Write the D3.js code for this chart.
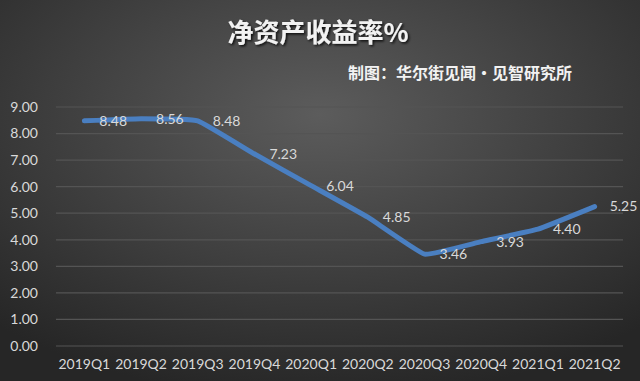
<!DOCTYPE html>
<html>
<head>
<meta charset="utf-8">
<script src="https://cdn.jsdelivr.net/npm/d3@7"></script>
<style>
  body { margin: 0; background: #333; }
  svg { display: block; }
</style>
</head>
<body>
<script>
var quarters = ["2019Q1", "2019Q2", "2019Q3", "2019Q4", "2020Q1", "2020Q2", "2020Q3", "2020Q4", "2021Q1", "2021Q2"];
var roe = [8.48, 8.56, 8.48, 7.23, 6.04, 4.85, 3.46, 3.93, 4.40, 5.25];
var yTicks = [0, 1, 2, 3, 4, 5, 6, 7, 8, 9];
var title = "净资产收益率%";
var subtitle = "制图：华尔街见闻·见智研究所";

var width = 640, height = 381;
var margin = {top: 107, right: 17, bottom: 35, left: 56};

var svg = d3.select("body").append("svg")
    .attr("width", width)
    .attr("height", height);

var defs = svg.append("defs");
var grad = defs.append("radialGradient")
    .attr("id", "bg")
    .attr("cx", "50%").attr("cy", "30%").attr("r", "75%");
grad.append("stop").attr("offset", "0%").attr("stop-color", "#5c5c5c");
grad.append("stop").attr("offset", "100%").attr("stop-color", "#262626");

var shadow = defs.append("filter").attr("id", "shadow")
    .attr("x", "-10%").attr("y", "-20%").attr("width", "120%").attr("height", "140%");
shadow.append("feDropShadow")
    .attr("dx", 1.5).attr("dy", 1.5).attr("stdDeviation", 1.2)
    .attr("flood-color", "#000").attr("flood-opacity", 0.8);

svg.append("rect")
    .attr("width", width).attr("height", height)
    .attr("fill", "url(#bg)");

var x = d3.scaleBand()
    .domain(quarters)
    .range([margin.left, width - margin.right]);

var y = d3.scaleLinear()
    .domain([0, 9])
    .range([height - margin.bottom, margin.top]);

// gridlines
svg.append("g")
  .selectAll("line")
  .data(yTicks)
  .enter().append("line")
    .attr("x1", margin.left)
    .attr("x2", width - margin.right)
    .attr("y1", function(d) { return y(d); })
    .attr("y2", function(d) { return y(d); })
    .attr("stroke", "#545454")
    .attr("stroke-width", 1.2);

// y labels
svg.append("g")
  .selectAll("text")
  .data(yTicks)
  .enter().append("text")
    .attr("x", 38)
    .attr("y", function(d) { return y(d); })
    .attr("dy", "0.35em")
    .attr("text-anchor", "end")
    .attr("fill", "#d9d9d9")
    .attr("font-family", "Lato, 'Open Sans', sans-serif")
    .attr("font-size", 14)
    .text(function(d) { return d3.format(".2f")(d); });

// x labels
svg.append("g")
  .selectAll("text")
  .data(quarters)
  .enter().append("text")
    .attr("x", function(d) { return x(d) + x.bandwidth() / 2; })
    .attr("y", 364)
    .attr("dy", "0.35em")
    .attr("text-anchor", "middle")
    .attr("fill", "#d9d9d9")
    .attr("font-family", "Lato, 'Open Sans', sans-serif")
    .attr("font-size", 14)
    .text(function(d) { return d; });

var pts = quarters.map(function(q, i) { return {q: q, v: roe[i]}; });

var line = d3.line()
    .x(function(d) { return x(d.q) + x.bandwidth() / 2; })
    .y(function(d) { return y(d.v); })
    .curve(d3.curveCardinal.tension(0.7));

svg.append("path")
    .datum(pts)
    .attr("d", line)
    .attr("fill", "none")
    .attr("stroke", "#4a7fc1")
    .attr("stroke-width", 5)
    .attr("stroke-linecap", "round")
    .attr("stroke-linejoin", "round");

// value labels
svg.append("g")
  .selectAll("text")
  .data(pts)
  .enter().append("text")
    .attr("x", function(d) { return x(d.q) + x.bandwidth() / 2 + 15; })
    .attr("y", function(d) { return y(d.v); })
    .attr("dy", "0.35em")
    .attr("fill", "#d9d9d9")
    .attr("font-family", "Lato, 'Open Sans', sans-serif")
    .attr("font-size", 14)
    .text(function(d) { return d3.format(".2f")(d.v); });

svg.append("text")
    .attr("x", 318)
    .attr("y", 33)
    .attr("dy", "0.35em")
    .attr("text-anchor", "middle")
    .attr("fill", "#f2f2f2")
    .attr("font-family", "'Noto Sans CJK SC', sans-serif")
    .attr("font-weight", "bold")
    .attr("font-size", 26)
    .attr("filter", "url(#shadow)")
    .text(title);

svg.append("text")
    .attr("x", 348)
    .attr("y", 73)
    .attr("dy", "0.35em")
    .attr("fill", "#f2f2f2")
    .attr("font-family", "'Noto Sans CJK SC', sans-serif")
    .attr("font-weight", "bold")
    .attr("font-size", 16)
    .text(subtitle);
</script>
</body>
</html>
